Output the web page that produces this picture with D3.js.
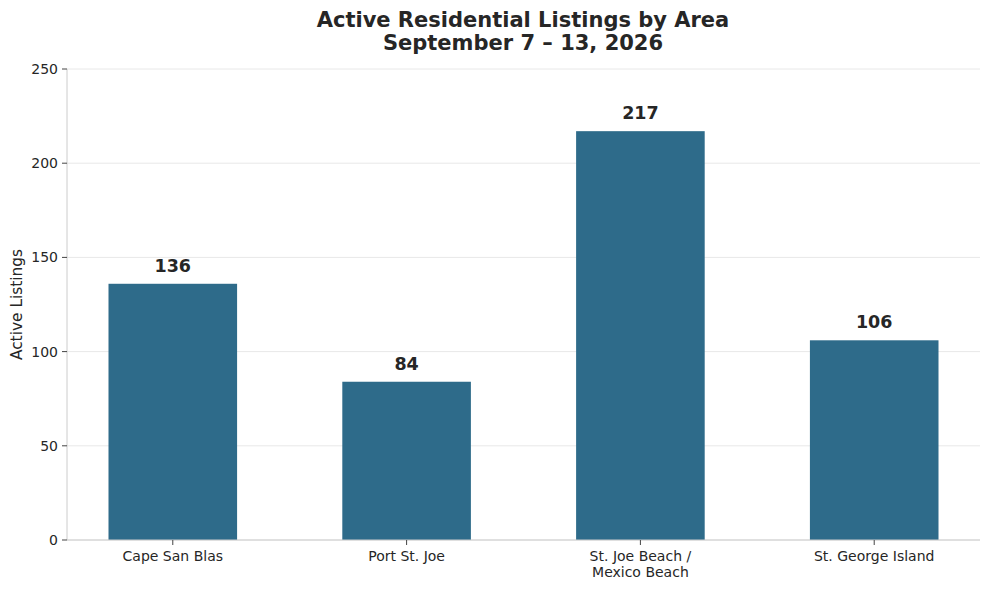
<!DOCTYPE html>
<html><head><meta charset="utf-8">
<script src="https://cdn.jsdelivr.net/npm/d3@7"></script>
<style>
body{margin:0;background:#fff;}
text{font-family:"DejaVu Sans",sans-serif;fill:#262626;}
</style></head>
<body><svg id="c" width="989" height="590"></svg>
<script>
const categories = [["Cape San Blas"],["Port St. Joe"],["St. Joe Beach /","Mexico Beach"],["St. George Island"]];
const values = [136, 84, 217, 106];
const yTicks = [0, 50, 100, 150, 200, 250];
const titleLines = ["Active Residential Listings by Area", "September 7 \u2013 13, 2026"];
const yLabel = "Active Listings";

const svg = d3.select("#c");
const L = 67, R = 980, T = 69, B = 540;
const barW = 0.55;
const x = d3.scaleLinear().domain([-0.4525, 3.4525]).range([L, R]);
const y = d3.scaleLinear().domain([0, 250]).range([B, T]);

// grid
svg.append("g").selectAll("line").data(yTicks).join("line")
  .attr("x1", L).attr("x2", R).attr("y1", d => y(d)).attr("y2", d => y(d))
  .attr("stroke", "#e8e8e8").attr("stroke-width", 1);

// bars
svg.append("g").selectAll("rect").data(values).join("rect")
  .attr("x", (d, i) => x(i - barW / 2))
  .attr("width", (d, i) => x(i + barW / 2) - x(i - barW / 2))
  .attr("y", d => y(d)).attr("height", d => B - y(d))
  .attr("fill", "#2e6b8a");

// value labels
svg.append("g").selectAll("text").data(values).join("text")
  .attr("x", (d, i) => x(i)).attr("y", d => y(d) - 12)
  .attr("text-anchor", "middle").attr("font-size", 17.5).attr("font-weight", "bold")
  .text(d => d);

// axes spines
svg.append("line").attr("x1", L).attr("x2", L).attr("y1", T).attr("y2", B)
  .attr("stroke", "#cccccc");
svg.append("line").attr("x1", L).attr("x2", R).attr("y1", B).attr("y2", B)
  .attr("stroke", "#cccccc");

// y ticks
const yg = svg.append("g");
yTicks.forEach(t => {
  yg.append("line").attr("x1", L - 5).attr("x2", L).attr("y1", y(t)).attr("y2", y(t)).attr("stroke", "#444");
  yg.append("text").attr("x", L - 9).attr("y", y(t)).attr("dy", "0.35em")
    .attr("text-anchor", "end").attr("font-size", 14).text(t);
});

// x ticks
const xg = svg.append("g");
categories.forEach((c, i) => {
  xg.append("line").attr("x1", x(i)).attr("x2", x(i)).attr("y1", B).attr("y2", B + 5).attr("stroke", "#444");
  c.forEach((line, j) => {
    xg.append("text").attr("x", x(i)).attr("y", B + 21 + j * 16)
      .attr("text-anchor", "middle").attr("font-size", 14).text(line);
  });
});

// y label
svg.append("text").attr("transform", `translate(22,${(T + B) / 2}) rotate(-90)`)
  .attr("text-anchor", "middle").attr("font-size", 15.4).text(yLabel);

// title
titleLines.forEach((t, i) => {
  svg.append("text").attr("x", 523).attr("y", 27 + i * 23)
    .attr("text-anchor", "middle").attr("font-size", 21).attr("font-weight", "bold").text(t);
});
</script></body></html>
